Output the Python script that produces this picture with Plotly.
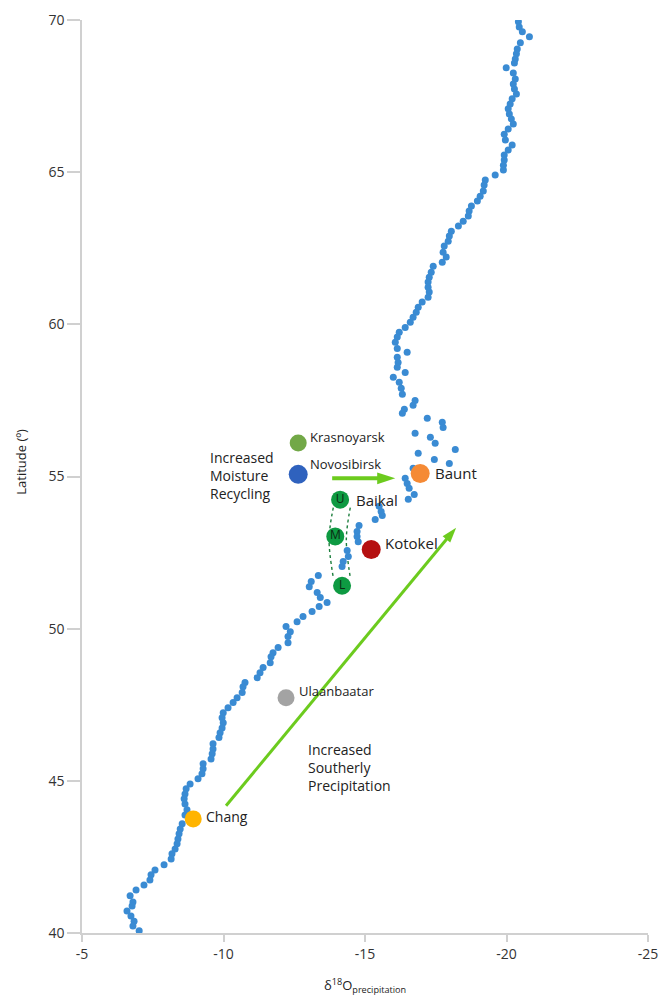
import plotly.graph_objects as go

# Gridded precipitation d18O along latitude (blue dots)
grid_d18o = [
    -20.42, -20.45, -20.56, -20.81, -20.49, -20.38, -20.35, -20.31, -20.28, -19.99,
    -20.24, -20.31, -20.24, -20.28, -20.35, -20.20, -20.13, -20.06, -20.10, -20.17,
    -20.24, -20.06, -19.92, -19.96, -20.20, -20.06, -19.92, -19.92, -19.89, -19.89,
    -19.60, -19.25, -19.21, -19.18, -19.07, -18.97, -18.76, -18.68, -18.65, -18.47,
    -18.30, -18.05, -17.98, -17.94, -17.80, -17.76, -17.87, -17.73, -17.41, -17.34,
    -17.27, -17.23, -17.23, -17.27, -17.23, -17.02, -16.88, -16.81, -16.70, -16.60,
    -16.42, -16.21, -16.14, -16.07, -16.14, -16.49, -16.14, -16.17, -16.14, -16.42,
    -16.00, -16.21, -16.28, -16.32, -16.77, -16.70, -16.39, -16.32, -17.20, -17.73,
    -17.76, -16.77, -17.31, -17.48, -18.19, -16.88, -17.45, -17.98, -16.70, -16.42,
    -16.49, -16.56, -16.74, -16.53, -15.50, -15.57, -15.61, -15.36, -14.79, -14.72,
    -14.72, -14.76, -14.37, -14.41, -14.23, -14.19, -13.35, -13.10, -13.03, -13.31,
    -13.42, -13.66, -13.38, -13.13, -12.81, -12.60, -12.21, -12.36, -12.28, -12.28,
    -11.93, -11.75, -11.68, -11.65, -11.40, -11.29, -11.19, -10.76, -10.69, -10.66,
    -10.48, -10.34, -10.16, -9.99, -9.95, -9.99, -9.95, -9.88, -9.84, -9.63,
    -9.63, -9.60, -9.56, -9.28, -9.28, -9.24, -9.10, -8.82, -8.68, -8.64,
    -8.61, -8.64, -8.71, -8.64, -8.54, -8.47, -8.43, -8.39, -8.36, -8.29,
    -8.18, -8.15, -7.90, -7.58, -7.44, -7.40, -7.19, -6.91, -6.70, -6.80,
    -6.77, -6.59, -6.73, -6.84, -6.80, -7.02,
]
grid_lat = [
    69.94, 69.77, 69.61, 69.45, 69.25, 69.05, 68.89, 68.72, 68.59, 68.43,
    68.26, 68.06, 67.90, 67.73, 67.57, 67.41, 67.24, 67.08, 66.91, 66.75,
    66.58, 66.42, 66.25, 66.06, 65.89, 65.73, 65.56, 65.40, 65.23, 65.07,
    64.91, 64.74, 64.58, 64.38, 64.21, 64.05, 63.89, 63.72, 63.56, 63.39,
    63.23, 63.06, 62.90, 62.73, 62.57, 62.37, 62.21, 62.04, 61.91, 61.71,
    61.55, 61.39, 61.22, 61.06, 60.89, 60.73, 60.56, 60.40, 60.23, 60.07,
    59.90, 59.74, 59.58, 59.41, 59.21, 59.08, 58.92, 58.75, 58.59, 58.42,
    58.26, 58.10, 57.90, 57.70, 57.50, 57.34, 57.21, 57.08, 56.91, 56.78,
    56.61, 56.42, 56.29, 56.09, 55.89, 55.76, 55.56, 55.43, 55.27, 54.94,
    54.77, 54.61, 54.41, 54.25, 54.02, 53.85, 53.72, 53.59, 53.39, 53.19,
    53.03, 52.86, 52.57, 52.37, 52.21, 52.04, 51.75, 51.55, 51.38, 51.19,
    51.02, 50.86, 50.73, 50.56, 50.40, 50.23, 50.07, 49.90, 49.74, 49.54,
    49.38, 49.21, 49.08, 48.88, 48.72, 48.55, 48.39, 48.23, 48.09, 47.90,
    47.73, 47.57, 47.40, 47.24, 47.07, 46.91, 46.74, 46.58, 46.42, 46.22,
    46.05, 45.89, 45.72, 45.56, 45.40, 45.23, 45.07, 44.90, 44.74, 44.57,
    44.41, 44.24, 44.05, 43.88, 43.59, 43.42, 43.26, 43.09, 42.93, 42.76,
    42.60, 42.43, 42.24, 42.07, 41.91, 41.74, 41.58, 41.41, 41.22, 41.02,
    40.89, 40.72, 40.56, 40.39, 40.23, 40.07,
]

# Named sites
site_names = ["Krasnoyarsk", "Novosibirsk", "Baunt", "U", "M", "L", "Kotokel", "Ulaanbaatar", "Chang"]
site_d18o = [-12.64, -12.64, -16.95, -14.12, -13.95, -14.19, -15.22, -12.21, -8.93]
site_lat = [56.1, 55.07, 55.1, 54.24, 53.03, 51.41, 52.6, 47.73, 43.75]
site_colors = ["#72A847", "#2F62BE", "#F58A35", "#0E9A42", "#0E9A42", "#0E9A42", "#B50F10", "#A3A3A3", "#FFB400"]
site_sizes = [17, 19, 19, 18, 18, 18, 19, 17, 17]

# Labels next to sites
label_text = ["Krasnoyarsk", "Novosibirsk", "Baunt", "Baikal", "Kotokel", "Ulaanbaatar", "Chang"]
label_site = [0, 1, 2, 3, 6, 7, 8]
label_size = [13, 13, 15, 15, 15, 13, 14]

x_ticks = [-5, -10, -15, -20, -25]
x_ticktext = ["-5", "-10", "-15", "-20", "-25"]
y_ticks = [40, 45, 50, 55, 60, 65, 70]

GREEN = "#6CCB1E"
FONT = "Open Sans"

fig = go.Figure()

# dotted outline around Baikal cores
for xs in ([-13.88, -13.73, -13.88], [-14.48, -14.34, -14.48]):
    fig.add_trace(go.Scatter(
        x=xs, y=[53.98, 52.93, 51.68], mode="lines",
        line=dict(color="#1D7F3E", width=1.4, dash="dot", shape="spline"),
        hoverinfo="skip", showlegend=False))

fig.add_trace(go.Scatter(
    x=grid_d18o, y=grid_lat, mode="markers",
    marker=dict(color="#3A8BD3", size=7, opacity=1, line=dict(width=0)),
    showlegend=False))

# Arrows (line + arrowhead marker)
arrow_tail_x = [-13.84, -10.09]
arrow_tail_y = [54.94, 44.18]
arrow_head_x = [-16.07, -18.22]
arrow_head_y = [54.94, 53.32]
arrow_w = [4, 3]
arrow_head = [19, 16]
for tx, ty, hx, hy, w, hs in zip(arrow_tail_x, arrow_tail_y, arrow_head_x, arrow_head_y, arrow_w, arrow_head):
    fig.add_trace(go.Scatter(
        x=[tx, hx], y=[ty, hy], mode="lines+markers",
        line=dict(color=GREEN, width=w),
        marker=dict(symbol="arrow", size=[0, hs], angleref="previous", color=GREEN,
                    opacity=1, line=dict(width=0)),
        hoverinfo="skip", showlegend=False))

fig.add_trace(go.Scatter(
    x=site_d18o, y=site_lat, mode="markers",
    marker=dict(color=site_colors, size=site_sizes, opacity=1, line=dict(width=0)),
    showlegend=False))

core_idx = [3, 4, 5]
fig.add_trace(go.Scatter(
    x=[site_d18o[i] for i in core_idx], y=[site_lat[i] for i in core_idx], mode="text",
    text=[site_names[i] for i in core_idx], textposition="middle center",
    textfont=dict(family=FONT, size=12, color="#0B2A12"),
    hoverinfo="skip", showlegend=False))

annotations = []
label_shift = {0: (10, 6), 1: (10, 10), 2: (13, 0), 3: (14, 0), 6: (12, 7), 7: (11, 7), 8: (11, 2)}
for txt, si, fs in zip(label_text, label_site, label_size):
    dx, dy = label_shift[si]
    annotations.append(dict(
        x=site_d18o[si], y=site_lat[si], xref="x", yref="y", text=txt,
        showarrow=False, xanchor="left", yanchor="middle", xshift=dx, yshift=dy,
        font=dict(family=FONT, size=fs, color="#222222")))

annotations.append(dict(
    x=-9.46, y=55.04, xref="x", yref="y", text="Increased<br>Moisture<br>Recycling",
    showarrow=False, xanchor="left", yanchor="middle", align="left",
    font=dict(family=FONT, size=14, color="#222222")))
annotations.append(dict(
    x=-12.92, y=45.43, xref="x", yref="y", text="Increased<br>Southerly<br>Precipitation",
    showarrow=False, xanchor="left", yanchor="middle", align="left",
    font=dict(family=FONT, size=14, color="#222222")))

# Axis titles
annotations.append(dict(
    x=-0.108, y=0.516, xref="paper", yref="paper", text="Latitude (º)", textangle=-90,
    showarrow=False, xanchor="center", yanchor="middle",
    font=dict(family=FONT, size=13, color="#222222")))
annotations.append(dict(
    x=0.5, y=-0.057, xref="paper", yref="paper",
    text="δ<sup>18</sup>O<sub>precipitation</sub>",
    showarrow=False, xanchor="center", yanchor="middle",
    font=dict(family=FONT, size=13, color="#222222")))

fig.update_layout(
    width=663, height=999,
    margin=dict(l=82, r=15, t=20, b=66, autoexpand=False),
    plot_bgcolor="white", paper_bgcolor="white",
    annotations=annotations,
    showlegend=False,
    xaxis=dict(
        range=[-5, -25], autorange=False, tickvals=x_ticks, ticktext=x_ticktext,
        showgrid=False, zeroline=False, showline=True, linecolor="#D0D0D0", linewidth=1.5,
        ticks="outside", ticklen=7, tickcolor="#D0D0D0", tickwidth=1.5,
        tickfont=dict(family=FONT, size=14, color="#333333")),
    yaxis=dict(
        range=[40, 70], autorange=False, tickvals=y_ticks,
        showgrid=False, zeroline=False, showline=True, linecolor="#D0D0D0", linewidth=1.5,
        ticks="outside", ticklen=13, tickcolor="#D0D0D0", tickwidth=1.5,
        tickfont=dict(family=FONT, size=14, color="#333333")),
)

fig.write_html("out.html", config={"displayModeBar": False},
               post_script="document.body.style.margin='0';document.body.style.overflow='hidden';")
